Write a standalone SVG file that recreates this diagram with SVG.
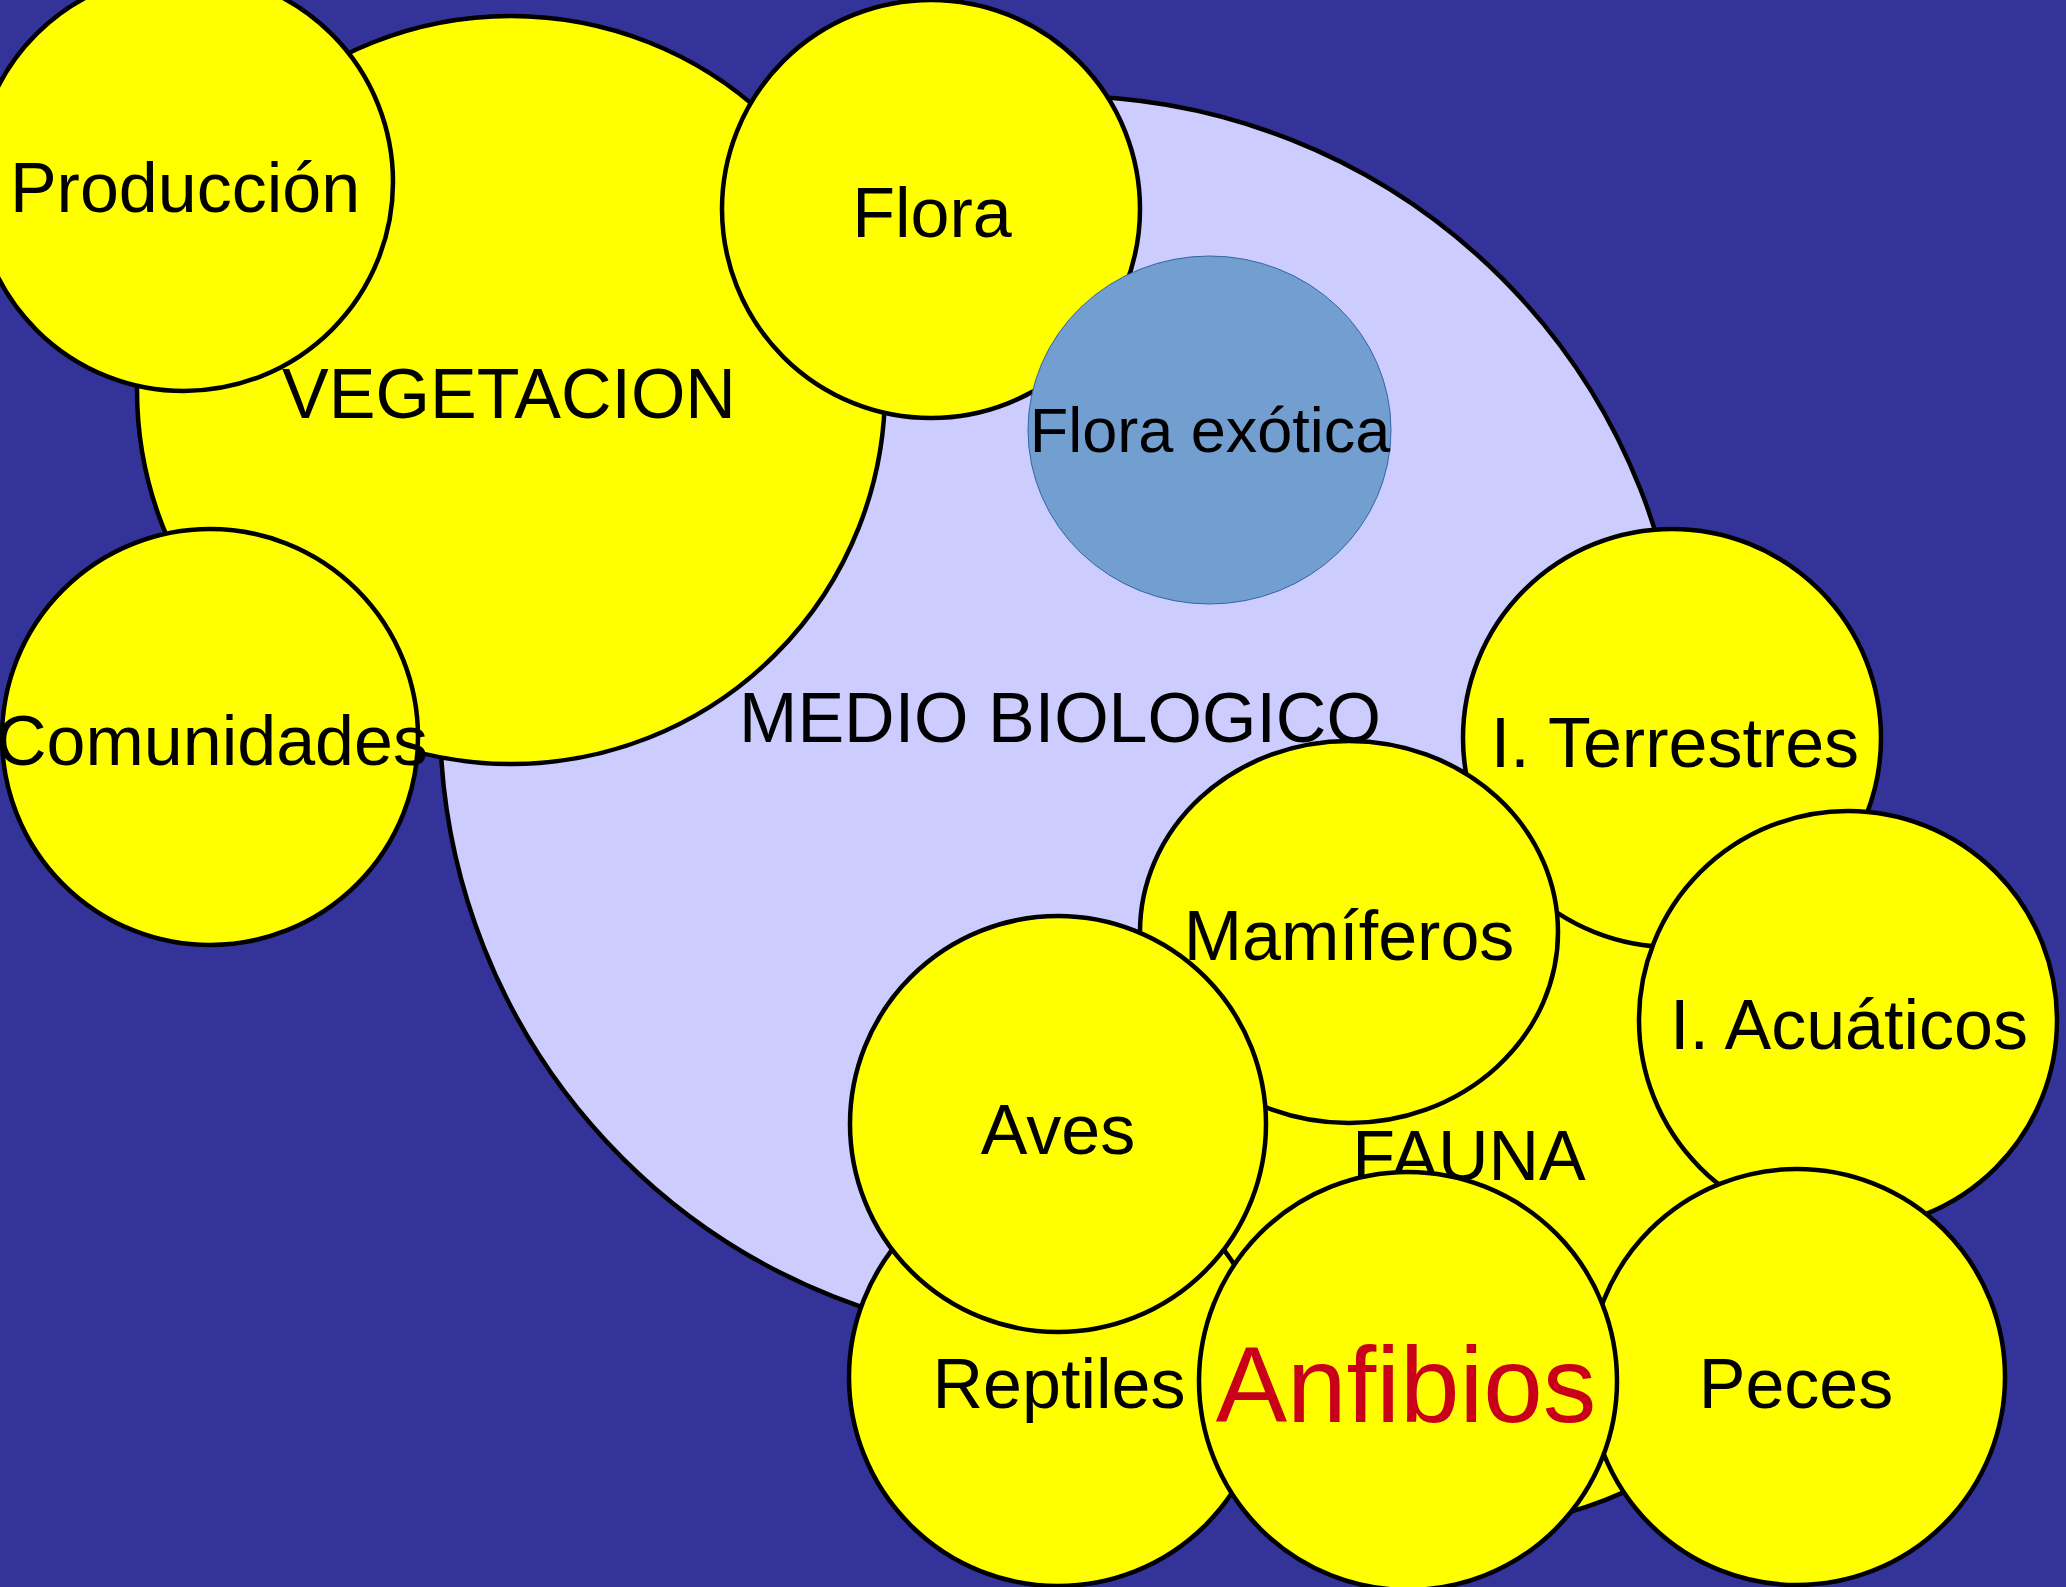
<svg xmlns="http://www.w3.org/2000/svg" width="2066" height="1587" viewBox="0 0 2066 1587">
<style>
.y{fill:#ffff00;stroke:#000;stroke-width:4.5}
.lav{fill:#ccccff;stroke:#000;stroke-width:4.5}
.t{font-family:"Liberation Sans",Arial,sans-serif;font-size:70px;fill:#000;text-anchor:middle}
.red{font-size:107px;fill:#c9001a}
</style>
<rect width="2066" height="1587" fill="#333399"/>
<g id="medio-biologico"><circle class="lav" cx="1062" cy="718" r="622"/><text class="t" x="1060" y="742">MEDIO BIOLOGICO</text></g>
<g id="vegetacion"><circle class="y" cx="511" cy="390" r="374"/></g>
<g id="produccion"><circle class="y" cx="184" cy="182" r="209"/><text class="t" x="185" y="212">Producción</text></g>
<text id="vegetacion-label" class="t" x="509" y="418">VEGETACION</text>
<g id="comunidades"><circle class="y" cx="210" cy="737" r="208"/><text class="t" x="212" y="765">Comunidades</text></g>
<g id="flora"><circle class="y" cx="931" cy="209" r="209"/><text class="t" x="932" y="237">Flora</text></g>
<g id="flora-exotica"><ellipse cx="1209.5" cy="430" rx="181.5" ry="174" fill="#729fcf" stroke="#3465a4" stroke-width="1"/><text class="t" x="1210" y="452" style="font-size:63px">Flora exótica</text></g>
<g id="fauna"><circle class="y" cx="1469" cy="1155" r="371"/><text class="t" x="1469" y="1180">FAUNA</text></g>
<g id="i-terrestres"><circle class="y" cx="1672" cy="738" r="209"/><text class="t" x="1675" y="767">I. Terrestres</text></g>
<g id="mamiferos"><ellipse class="y" cx="1349" cy="932" rx="209" ry="191"/><text class="t" x="1349" y="960">Mamíferos</text></g>
<g id="i-acuaticos"><circle class="y" cx="1848" cy="1020" r="209"/><text class="t" x="1849" y="1049">I. Acuáticos</text></g>
<g id="reptiles"><circle class="y" cx="1058" cy="1377" r="209"/><text class="t" x="1059" y="1408">Reptiles</text></g>
<g id="aves"><circle class="y" cx="1058" cy="1124" r="208"/><text class="t" x="1058" y="1154">Aves</text></g>
<g id="peces"><circle class="y" cx="1797" cy="1377" r="208"/><text class="t" x="1796" y="1408">Peces</text></g>
<g id="anfibios"><circle class="y" cx="1408" cy="1381" r="209"/><text class="t red" x="1406" y="1422">Anfibios</text></g>
<g id="connectors"/>
</svg>
